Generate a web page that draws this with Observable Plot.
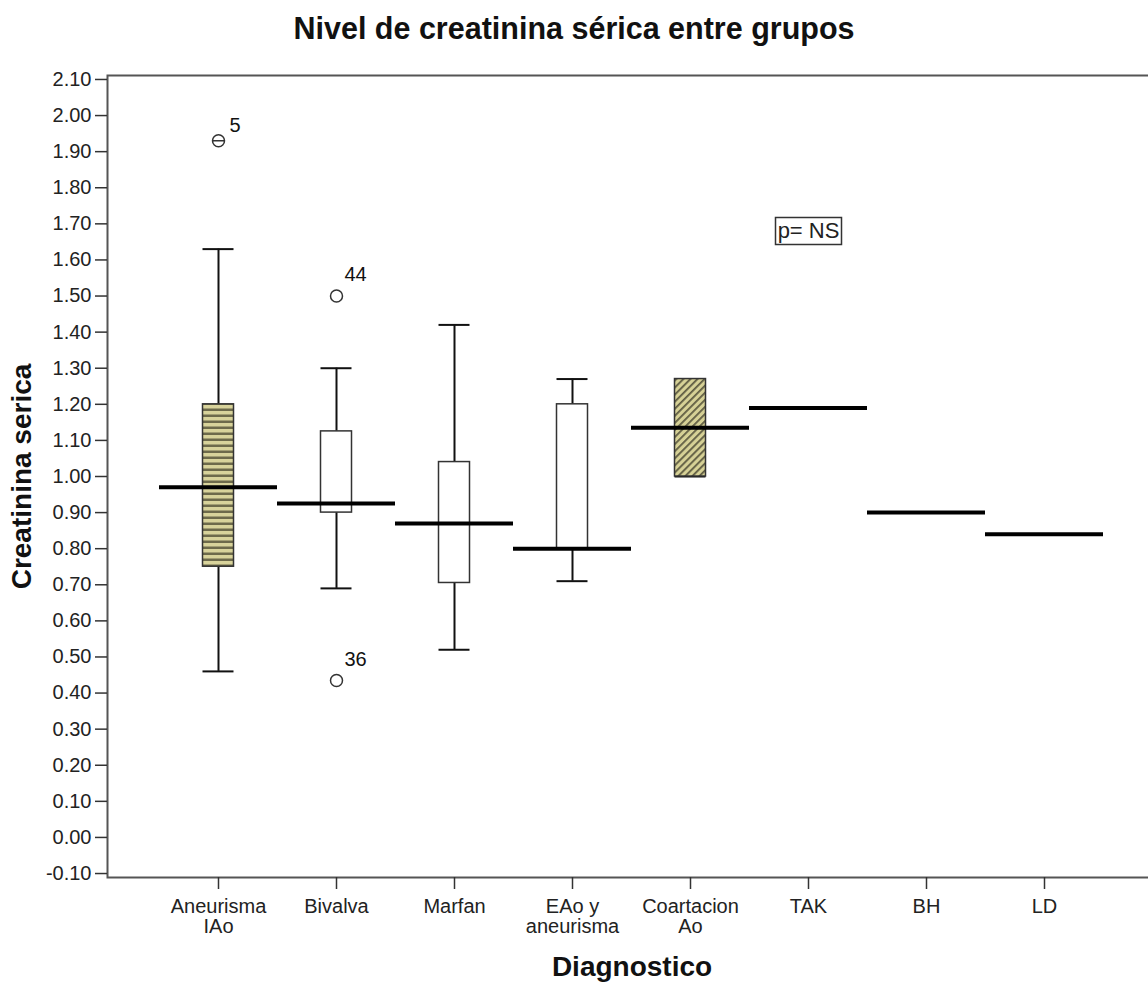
<!DOCTYPE html>
<html>
<head>
<meta charset="utf-8">
<script src="https://cdn.jsdelivr.net/npm/d3@7"></script>
<script src="https://cdn.jsdelivr.net/npm/@observablehq/plot@0.6"></script>
<style>
html, body { margin: 0; padding: 0; background: #fff; overflow: hidden; }
#title { width: 1148px; height: 57px; text-align: center;
  font: bold 30.5px "Liberation Sans", Arial, sans-serif; line-height: 57px; color: #111; }
#chart svg { overflow: hidden; display: block; }
</style>
</head>
<body>
<div id="title">Nivel de creatinina sérica entre grupos</div>
<div id="chart"></div>
<script>
// ---- data ----
const categories = ["Aneurisma IAo", "Bivalva", "Marfan", "EAo y aneurisma", "Coartacion Ao", "TAK", "BH", "LD"];
const categoryLabels = ["Aneurisma\nIAo", "Bivalva", "Marfan", "EAo y\naneurisma", "Coartacion\nAo", "TAK", "BH", "LD"];
const medians = [0.97, 0.925, 0.87, 0.80, 1.135, 1.19, 0.90, 0.84];

const boxCategories = ["Aneurisma IAo", "Bivalva", "Marfan", "EAo y aneurisma", "Coartacion Ao"];
const q1 = [0.75, 0.90, 0.705, 0.80, 1.00];
const q3 = [1.20, 1.125, 1.04, 1.20, 1.27];
const whiskerLow = [0.46, 0.69, 0.52, 0.71, 1.00];
const whiskerHigh = [1.63, 1.30, 1.42, 1.27, 1.27];

const outlierCategories = ["Aneurisma IAo", "Bivalva", "Bivalva"];
const outlierValues = [1.93, 1.50, 0.435];
const outlierLabels = ["5", "44", "36"];
const outlierCounts = [2, 1, 1];

const yTicks = [-0.10, 0.00, 0.10, 0.20, 0.30, 0.40, 0.50, 0.60, 0.70, 0.80, 0.90, 1.00,
                1.10, 1.20, 1.30, 1.40, 1.50, 1.60, 1.70, 1.80, 1.90, 2.00, 2.10];
const yDomain = [-0.111, 2.111];

const noteText = ["p= NS"];
const noteCategory = ["TAK"];
const noteValue = [1.68];

// ---- tables ----
const medianRows = categories.map((c, i) => ({cat: c, med: medians[i]}));
const boxRows = boxCategories.map((c, i) => ({cat: c, q1: q1[i], q3: q3[i], lo: whiskerLow[i], hi: whiskerHigh[i]}));
const outlierRows = outlierCategories.map((c, i) => ({cat: c, v: outlierValues[i], label: outlierLabels[i], n: outlierCounts[i]}));
const noteRows = noteText.map((t, i) => ({cat: noteCategory[i], v: noteValue[i], t}));

// ---- styles ----
const boxFill = {"Aneurisma IAo": "url(#hstripe)", "Coartacion Ao": "url(#dstripe)"};
const theta = {
  draw(ctx, size) {
    const r = Math.sqrt(size / Math.PI);
    ctx.moveTo(r, 0); ctx.arc(0, 0, r, 0, 2 * Math.PI);
    ctx.moveTo(-r, 0); ctx.lineTo(r, 0);
  }
};
const noteBox = { draw(ctx) { ctx.rect(-33, -13.5, 66, 27); } };
const boxInset = 43.5;

const chart = Plot.plot({
  width: 1148,
  height: 932,
  marginLeft: 107,
  marginRight: -8,
  marginTop: 18,
  marginBottom: 112,
  style: {fontFamily: '"Liberation Sans", Arial, sans-serif', fontSize: "20px", color: "#222", background: "white", overflow: "hidden"},
  x: {type: "band", domain: categories, range: [159, 1103], padding: 0, round: false},
  y: {domain: yDomain},
  marks: [
    Plot.frame({stroke: "#555", strokeWidth: 2}),
    Plot.axisY({ticks: yTicks, tickFormat: d => d.toFixed(2), tickSize: 12, tickPadding: 4, label: null, stroke: "#333", strokeWidth: 1.5}),
    Plot.axisX({tickSize: 12, tickPadding: 9, lineHeight: 1.0, label: null, stroke: "#333", strokeWidth: 1.5,
      tickFormat: d => categoryLabels[categories.indexOf(d)]}),
    // whiskers
    Plot.ruleX(boxRows, {x: "cat", y1: "lo", y2: "q1", stroke: "#111", strokeWidth: 2}),
    Plot.ruleX(boxRows, {x: "cat", y1: "q3", y2: "hi", stroke: "#111", strokeWidth: 2}),
    Plot.tickY(boxRows, {x: "cat", y: "lo", stroke: "#111", strokeWidth: 2, insetLeft: boxInset, insetRight: boxInset}),
    Plot.tickY(boxRows, {x: "cat", y: "hi", stroke: "#111", strokeWidth: 2, insetLeft: boxInset, insetRight: boxInset}),
    // boxes
    Plot.barY(boxRows.filter(d => !boxFill[d.cat]), {x: "cat", y1: "q1", y2: "q3", fill: "white", stroke: "#333", strokeWidth: 1.5, insetLeft: boxInset, insetRight: boxInset}),
    Plot.barY(boxRows.filter(d => d.cat === "Aneurisma IAo"), {x: "cat", y1: "q1", y2: "q3", fill: boxFill["Aneurisma IAo"], stroke: "#333", strokeWidth: 1.5, insetLeft: boxInset, insetRight: boxInset}),
    Plot.barY(boxRows.filter(d => d.cat === "Coartacion Ao"), {x: "cat", y1: "q1", y2: "q3", fill: boxFill["Coartacion Ao"], stroke: "#333", strokeWidth: 1.5, insetLeft: boxInset, insetRight: boxInset}),
    // medians
    Plot.tickY(medianRows, {x: "cat", y: "med", stroke: "#000", strokeWidth: 4}),
    // outliers
    Plot.dot(outlierRows.filter(d => d.n === 1), {x: "cat", y: "v", r: 6, stroke: "#333", strokeWidth: 1.5, fill: "white"}),
    Plot.dot(outlierRows.filter(d => d.n > 1), {x: "cat", y: "v", r: 6, symbol: theta, stroke: "#333", strokeWidth: 1.5, fill: "white"}),
    Plot.text(outlierRows.filter(d => d.n === 1), {x: "cat", y: "v", text: "label", textAnchor: "start", dx: 8, dy: -21, fill: "#111"}),
    Plot.text(outlierRows.filter(d => d.n > 1), {x: "cat", y: "v", text: "label", textAnchor: "start", dx: 11, dy: -15, fill: "#111"}),
    // note
    Plot.dot(noteRows, {x: "cat", y: "v", symbol: noteBox, stroke: "#333", strokeWidth: 1.5, fill: "white"}),
    Plot.text(noteRows, {x: "cat", y: "v", text: "t", fill: "#222", fontSize: 22}),
    // axis titles
    Plot.text(["Diagnostico"], {frameAnchor: "bottom", dy: 98, fontSize: 28, fontWeight: "bold", fill: "#111"}),
    Plot.text(["Creatinina serica"], {frameAnchor: "left", textAnchor: "middle", dx: -85, rotate: -90, fontSize: 28, fontWeight: "bold", fill: "#111"})
  ]
});

d3.select(chart).insert("defs", ":first-child").html(`
  <pattern id="hstripe" width="8" height="6" patternUnits="userSpaceOnUse">
    <rect width="8" height="6" fill="#d8d39b"></rect>
    <rect y="3.5" width="8" height="2.5" fill="#6d6a4b"></rect>
  </pattern>
  <pattern id="dstripe" width="5" height="5" patternUnits="userSpaceOnUse" patternTransform="rotate(45)">
    <rect width="5" height="5" fill="#d6d196"></rect>
    <rect x="0" width="1.8" height="5" fill="#5f5c42"></rect>
  </pattern>
`);

document.getElementById("chart").appendChild(chart);
</script>
</body>
</html>
